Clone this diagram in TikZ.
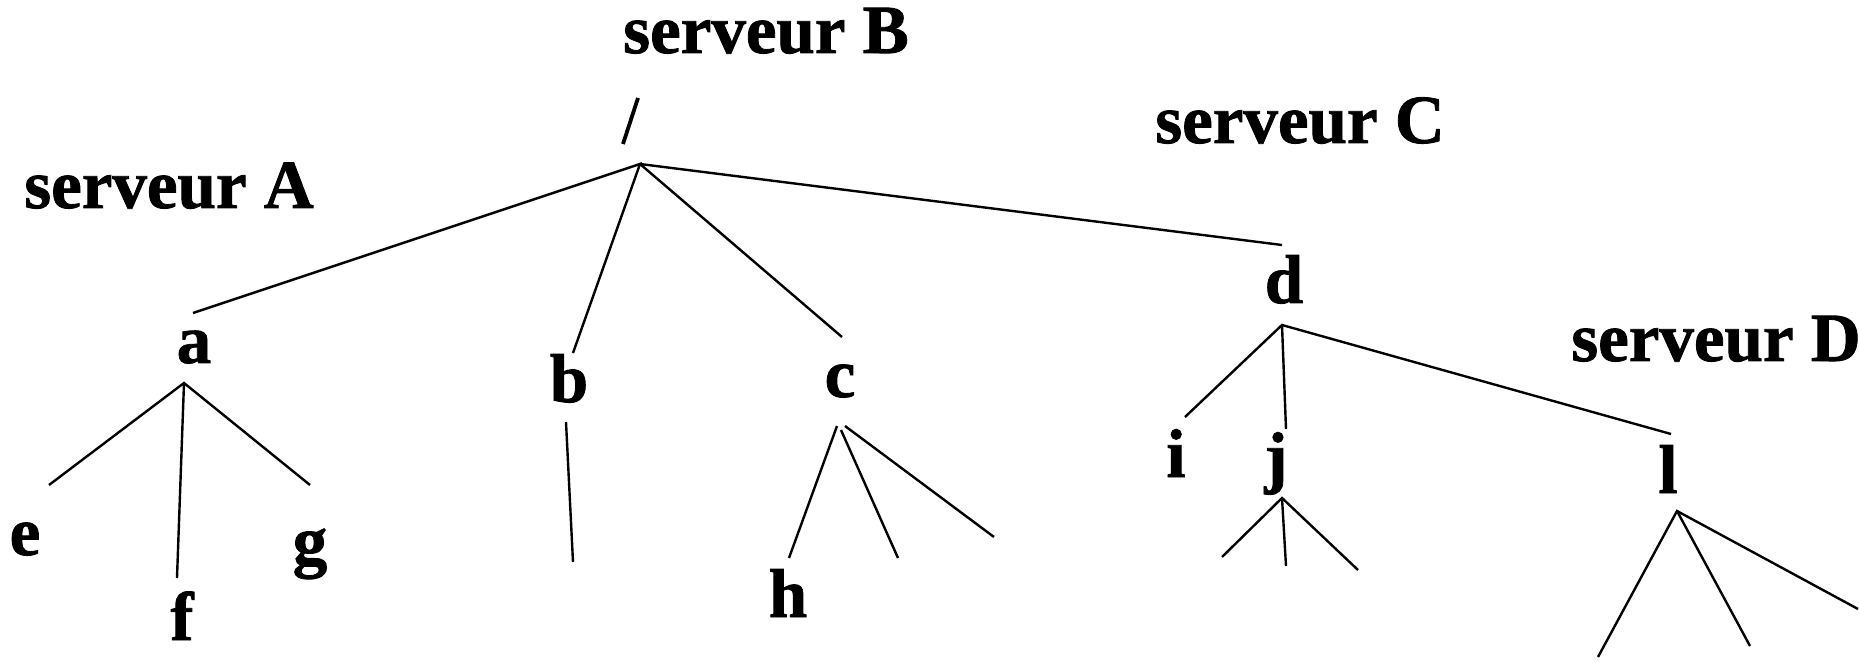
\documentclass[tikz,border=0pt]{standalone}
\usepackage{fontspec}
\setmainfont{Liberation Serif}[BoldFeatures={FakeBold=1.2}]
\begin{document}
\begin{tikzpicture}[x=0.5pt,y=-0.5pt,
  lbl/.style={font=\fontsize{34.5}{40}\selectfont\bfseries, inner sep=0pt, anchor=base},
  edge/.style={line width=1.2pt},
  slashline/.style={line width=1.9pt}]
\useasboundingbox (0,0) rectangle (1859,663);
% labels
\node[lbl] (sB) at (766,53) {serveur B};
\node[lbl] (sA) at (169,208) {serveur A};
\node[lbl] (sC) at (1300,143) {serveur C};
\node[lbl] (sD) at (1716,361) {serveur D};
\node[lbl] (na) at (194,363) {a};
\node[lbl] (nb) at (569,402) {b};
\node[lbl] (nc) at (840,397) {c};
\node[lbl] (nd) at (1284,303) {d};
\node[lbl] (ne) at (25,555) {e};
\node[lbl] (nf) at (182,640) {f};
\node[lbl] (ng) at (310,564) {g};
\node[lbl] (nh) at (788,617) {h};
\node[lbl] (ni) at (1176,477) {i};
\node[lbl] (nj) at (1276,480) {j};
\node[lbl] (nl) at (1668,493) {l};
% junctions and free ends
\coordinate (s1) at (638,98);
\coordinate (s2) at (623,144);
\coordinate (rB) at (640,164);
\coordinate (tA) at (193,313);
\coordinate (tB) at (573,353);
\coordinate (tC) at (842,337);
\coordinate (tD) at (1282,245);
\coordinate (rA) at (184,383);
\coordinate (ae) at (49,485);
\coordinate (af) at (177,578);
\coordinate (ag) at (310,485);
\coordinate (b1) at (566,422);
\coordinate (b2) at (573,562);
\coordinate (c1) at (837,426);
\coordinate (c1e) at (789,558);
\coordinate (c2) at (841,430);
\coordinate (c2e) at (898,558);
\coordinate (c3) at (845,426);
\coordinate (c3e) at (994,537);
\coordinate (rD) at (1282,325);
\coordinate (di) at (1185,417);
\coordinate (dj) at (1286,429);
\coordinate (dl) at (1671,434);
\coordinate (rJ) at (1282,498);
\coordinate (j1) at (1222,557);
\coordinate (j2) at (1286,566);
\coordinate (j3) at (1358,570);
\coordinate (rL) at (1677,511);
\coordinate (l1) at (1598,657);
\coordinate (l2) at (1750,646);
\coordinate (l3) at (1858,609);
% connectors
\draw[slashline] (s1) -- (s2);
\draw[edge] (tA) -- (rB) -- (tB);
\draw[edge] (rB) -- (tC);
\draw[edge] (rB) -- (tD);
\draw[edge] (ae) -- (rA) -- (ag);
\draw[edge] (rA) -- (af);
\draw[edge] (b1) -- (b2);
\draw[edge] (c1) -- (c1e);
\draw[edge] (c2) -- (c2e);
\draw[edge] (c3) -- (c3e);
\draw[edge] (di) -- (rD) -- (dl);
\draw[edge] (rD) -- (dj);
\draw[edge] (j1) -- (rJ) -- (j3);
\draw[edge] (rJ) -- (j2);
\draw[edge] (l1) -- (rL) -- (l3);
\draw[edge] (rL) -- (l2);
\end{tikzpicture}
\end{document}
